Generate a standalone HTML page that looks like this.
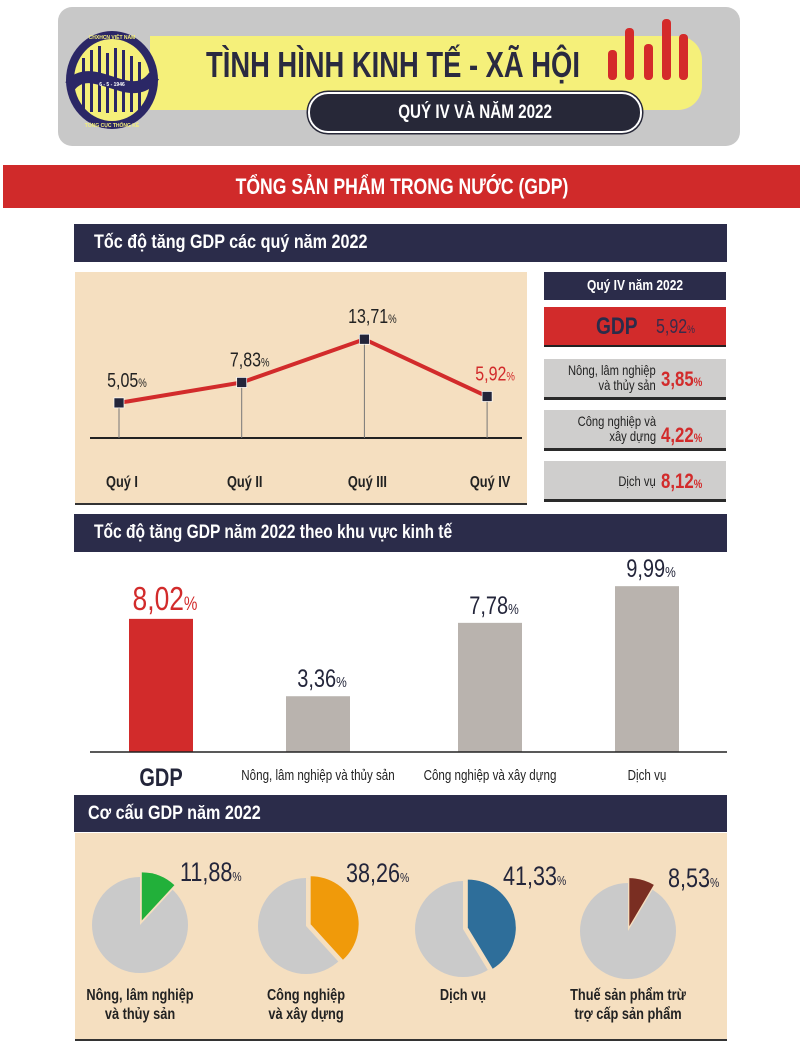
<!DOCTYPE html>
<html><head><meta charset="utf-8">
<style>
*{margin:0;padding:0;box-sizing:border-box}
body{width:800px;height:1056px;background:#fff;position:relative;overflow:hidden;font-family:"Liberation Sans","DejaVu Sans",sans-serif;}
.abs{position:absolute}
.c{display:inline-block;transform:scaleX(.8);transform-origin:0 50%;white-space:nowrap}
.cc{display:inline-block;transform:scaleX(.8);transform-origin:50% 50%;white-space:nowrap}
.cr{display:inline-block;transform:scaleX(.8);transform-origin:100% 50%;white-space:nowrap}
.sec{position:absolute;left:74px;width:653px;background:#2b2c4a;color:#fff;font-weight:bold;font-size:19px;padding-left:20px;}
.box{position:absolute;left:544px;width:182px;background:#cfcecd;border-bottom:3px solid #2a2a2a}
</style></head><body>
<!-- header -->
<div class="abs" style="left:58px;top:7px;width:682px;height:139px;background:#c8c8c8;border-radius:14px"></div>
<div class="abs" style="left:150px;top:36px;width:552px;height:74px;background:#f5f07a;border-radius:0 24px 24px 0"></div>
<svg class="abs" style="left:62px;top:28px" width="100" height="105" viewBox="0 0 100 105">
<ellipse cx="50" cy="52" rx="46" ry="49" fill="#2b2766"/>
<ellipse cx="50" cy="52" rx="38" ry="41" fill="#f5f07a"/>
<g fill="#2b2766"><rect x="20" y="30" width="3" height="52"/><rect x="28" y="22" width="3" height="62"/><rect x="36" y="18" width="3" height="66"/><rect x="44" y="25" width="3" height="60"/><rect x="52" y="20" width="3" height="64"/><rect x="60" y="22" width="3" height="62"/><rect x="68" y="28" width="3" height="56"/><rect x="76" y="34" width="3" height="48"/></g>
<path d="M8 58 C30 30,70 80,92 48" stroke="#2b2766" stroke-width="12" fill="none"/>
<text x="50" y="58" font-size="5" fill="#fff" text-anchor="middle" font-weight="bold">6 - 5 - 1946</text>
<text x="50" y="11" font-size="5" fill="#f5f07a" text-anchor="middle" font-weight="bold">CHXHCN VIỆT NAM</text>
<text x="50" y="99" font-size="5" fill="#f5f07a" text-anchor="middle" font-weight="bold">TỔNG CỤC THỐNG KÊ</text>
</svg>
<div class="abs" style="left:206px;top:44px;font-size:36px;font-weight:bold;color:#2a2a40"><span class="c" style="transform:scaleX(.76)">TÌNH HÌNH KINH TẾ - XÃ HỘI</span></div>
<svg class="abs" style="left:606px;top:18px" width="86" height="64">
<g fill="#d42a2a"><rect x="2" y="32" width="9" height="30" rx="4"/><rect x="19" y="10" width="9" height="52" rx="4"/><rect x="38" y="26" width="9" height="36" rx="4"/><rect x="56" y="1" width="9" height="61" rx="4"/><rect x="73" y="16" width="9" height="46" rx="4"/></g></svg>
<div class="abs" style="left:308px;top:92px;width:334px;height:41px;background:#272838;border:2px solid #fff;box-shadow:0 0 0 1.5px #272838;border-radius:20px;color:#fff;font-weight:bold;font-size:19px;text-align:center;line-height:37px"><span class="cc">QUÝ IV VÀ NĂM 2022</span></div>
<!-- red banner -->
<div class="abs" style="left:3px;top:165px;width:797px;height:43px;background:#d02a2a;color:#fff;font-weight:bold;font-size:22px;text-align:center;line-height:43px"><span class="cc">TỔNG SẢN PHẨM TRONG NƯỚC (GDP)</span></div>
<!-- section 1 -->
<div class="sec" style="top:224px;height:38px;line-height:38px"><span class="c" style="transform:scaleX(.85)">Tốc độ tăng GDP các quý năm 2022</span></div>
<div class="abs" style="left:75px;top:272px;width:452px;height:233px;background:#f5dfc0;border-bottom:2px solid #333"></div>
<svg id="line" class="abs" style="left:0;top:0" width="800" height="520"></svg>
<!-- right panel -->
<div class="abs" style="left:544px;top:272px;width:182px;height:28px;background:#2b2c4a;color:#fff;font-weight:bold;font-size:15px;text-align:center;line-height:28px"><span class="cc">Quý IV năm 2022</span></div>
<div class="abs" style="left:544px;top:307px;width:182px;height:40px;background:#d22b2b;border-bottom:2px solid #222;line-height:40px;font-weight:bold">
<span class="abs c" style="left:52px;font-size:24px;color:#2b2c4a">GDP</span><span class="abs c" style="left:112px;font-size:20px;color:#3a2b4a;font-weight:normal">5,92<small style="font-size:11px">%</small></span></div>
<div class="box" style="top:359px;height:41px"><span class="abs cr" style="right:70px;top:4px;font-size:14px;text-align:right;line-height:15px;color:#222">Nông, lâm nghiệp<br>và thủy sản</span><span class="abs c" style="left:117px;top:9px;font-size:21px;color:#d22b2b;font-weight:bold">3,85<small style="font-size:12px">%</small></span></div>
<div class="box" style="top:410px;height:41px"><span class="abs cr" style="right:70px;top:4px;font-size:14px;text-align:right;line-height:15px;color:#222">Công nghiệp và<br>xây dựng</span><span class="abs c" style="left:117px;top:14px;font-size:21px;color:#d22b2b;font-weight:bold">4,22<small style="font-size:12px">%</small></span></div>
<div class="box" style="top:461px;height:41px"><span class="abs cr" style="right:70px;top:12px;font-size:14px;color:#222">Dịch vụ</span><span class="abs c" style="left:117px;top:9px;font-size:21px;color:#d22b2b;font-weight:bold">8,12<small style="font-size:12px">%</small></span></div>
<!-- section 2 -->
<div class="sec" style="top:514px;height:38px;line-height:38px"><span class="c" style="transform:scaleX(.82)">Tốc độ tăng GDP năm 2022 theo khu vực kinh tế</span></div>
<svg id="bar" class="abs" style="left:0;top:0" width="800" height="800"></svg>
<!-- section 3 -->
<div class="sec" style="top:795px;height:37px;line-height:37px;padding-left:14px"><span class="c" style="transform:scaleX(.85)">Cơ cấu GDP năm 2022</span></div>
<div class="abs" style="left:75px;top:833px;width:652px;height:208px;background:#f5dfc0;border-bottom:2px solid #333"></div>
<svg id="pie" class="abs" style="left:0;top:0" width="800" height="1056"></svg>
<script>
const quarters=["Quý I","Quý II","Quý III","Quý IV"];
const quarterValues=[5.05,7.83,13.71,5.92];
const quarterLabels=["5,05","7,83","13,71","5,92"];
const sectors=["GDP","Nông, lâm nghiệp và thủy sản","Công nghiệp và xây dựng","Dịch vụ"];
const sectorValues=[8.02,3.36,7.78,9.99];
const sectorLabels=["8,02","3,36","7,78","9,99"];
const pieNames=[["Nông, lâm nghiệp","và thủy sản"],["Công nghiệp","và xây dựng"],["Dịch vụ"],["Thuế sản phẩm trừ","trợ cấp sản phẩm"]];
const pieValues=[11.88,38.26,41.33,8.53];
const pieLabels=["11,88","38,26","41,33","8,53"];
const pieColors=["#22b03a","#f09a0a","#2e6e9a","#7a2e22"];
const NS="http://www.w3.org/2000/svg";
function mk(p,tag,at,txt){const e=document.createElementNS(NS,tag);for(const k in at)e.setAttribute(k,at[k]);if(txt!==undefined)e.textContent=txt;p.appendChild(e);return e;}
function tx(p,x,y,at,txt){at.transform=`translate(${x},${y}) scale(0.8,1)`;at.x=0;at.y=0;at['font-family']='"Liberation Sans",sans-serif';return mk(p,'text',at,txt);}
// line chart
const L=document.getElementById('line');
const lx=i=>119+i*122.7, ly=v=>440-7.35*v;
let e=mk(L,'line',{x1:90,x2:522,y1:438,y2:438,stroke:'#222','stroke-width':2});

quarterValues.forEach((v,i)=>{let s=mk(L,'line',{x1:lx(i),x2:lx(i),y1:ly(v),y2:438,stroke:'#777','stroke-width':1});
});
e=mk(L,'polyline',{points:quarterValues.map((v,i)=>lx(i)+','+ly(v)).join(' '),fill:'none',stroke:'#d22b2b','stroke-width':4});

quarterValues.forEach((v,i)=>{
 let p=mk(L,'rect',{x:lx(i)-5,y:ly(v)-5,width:10,height:10,fill:'#23253a',stroke:'#fff','stroke-width':0.7});
 
 let t=tx(L,lx(i)+8,ly(v)-16,{'text-anchor':'middle','font-size':20,fill:i==3?'#d22b2b':'#222'});
 
 t.textContent=quarterLabels[i];mk(t,'tspan',{'font-size':12},'%');
 let q=tx(L,lx(i)+3,487,{'text-anchor':'middle','font-size':16,'font-weight':'bold',fill:'#222'},quarters[i]);
 
});
// bar chart
const B=document.getElementById('bar');
const bx=[161,318,490,647], by=v=>752-16.6*v;
sectorValues.forEach((v,i)=>{
 let r=mk(B,'rect',{x:bx[i]-32,y:by(v),width:64,height:752-by(v),fill:i==0?'#d22b2b':'#b9b3ae'});
 
 let t=tx(B,bx[i]+4,by(v)-9,{'text-anchor':'middle','font-size':i==0?33:25,fill:i==0?'#d22b2b':'#23253a'});
 
 t.textContent=sectorLabels[i];mk(t,'tspan',{'font-size':i==0?19:15},'%');
 let c=tx(B,bx[i],i==0?786:780,{'text-anchor':'middle','font-size':i==0?25:14.5,'font-weight':i==0?'bold':'normal',fill:i==0?'#23253a':'#222'},sectors[i]);
 
});
e=mk(B,'line',{x1:90,x2:727,y1:752,y2:752,stroke:'#222','stroke-width':1.5});

// pies
const P=document.getElementById('pie');
const pc=[[140,925],[306,926],[463,929],[628,931]], R=48;
pieValues.forEach((v,i)=>{
 const [cx,cy]=pc[i];const a=v/100*2*Math.PI;
 let bg=mk(P,'circle',{cx:cx,cy:cy,r:R,fill:'#cacaca'});
 
 const mid=a/2, ox=Math.sin(mid)*5, oy=-Math.cos(mid)*5;
 const x0=cx+ox,y0=cy+oy,x1=x0,y1=y0-R,x2=x0+R*Math.sin(a),y2=y0-R*Math.cos(a);
 mk(P,'path',{d:`M${cx} ${cy}L${cx} ${cy-R}A${R} ${R} 0 ${a>Math.PI?1:0} 1 ${cx+R*Math.sin(a)} ${cy-R*Math.cos(a)}Z`,fill:'#f5dfc0'});
 let s=mk(P,'path',{d:`M${x0} ${y0}L${x1} ${y1}A${R} ${R} 0 ${a>Math.PI?1:0} 1 ${x2} ${y2}Z`,fill:pieColors[i]});
 
 let t=tx(P,cx+40,cy-44,{'font-size':27,fill:'#23253a'});
 
 t.textContent=pieLabels[i];mk(t,'tspan',{'font-size':13},'%');
 pieNames[i].forEach((n,j)=>{let l=tx(P,cx,1000+j*19,{'text-anchor':'middle','font-size':16,'font-weight':'bold',fill:'#222'},n);
 });
});
</script>
</body></html>
